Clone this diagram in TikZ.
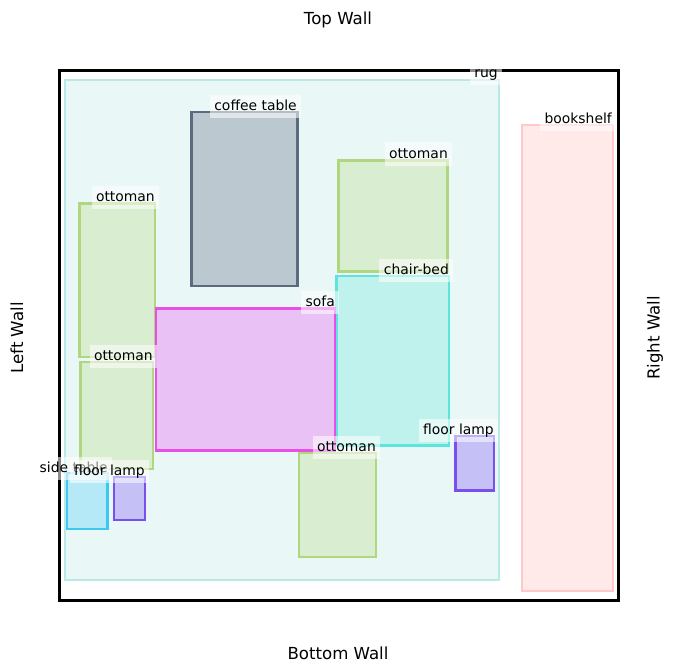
\documentclass[tikz,border=0pt]{standalone}
\usepackage{fontspec}
\setmainfont{DejaVu Sans}
\usepackage{xcolor}
\definecolor{rugLine}{HTML}{B9E8E6}\definecolor{rugFill}{HTML}{E9F7F7}
\definecolor{shelfLine}{HTML}{FFC9C9}\definecolor{shelfFill}{HTML}{FFE9E9}
\definecolor{coffeeLine}{HTML}{5A6B80}\definecolor{coffeeFill}{HTML}{BCC8D0}
\definecolor{ottoLine}{HTML}{B0D67E}\definecolor{ottoFill}{HTML}{D9EDD0}
\definecolor{chairLine}{HTML}{5CE5DC}\definecolor{chairFill}{HTML}{C0F2ED}
\definecolor{sofaLine}{HTML}{E84EE8}\definecolor{sofaFill}{HTML}{E9C1F5}
\definecolor{sideLine}{HTML}{3CC8F0}\definecolor{sideFill}{HTML}{B5E9F7}
\definecolor{lampLine}{HTML}{7950EE}\definecolor{lampFill}{HTML}{C5C0F5}

\begin{document}
\begin{tikzpicture}[
  x=1pt, y=-1pt,
  blk/.style={draw=#1Line, fill=#1Fill, line width=2.9pt},
  lbl/.style={anchor=base east, fill=white, fill opacity=0.55, text opacity=1,
              font=\fontsize{13.9}{16}\selectfont, text height=11pt, text depth=3pt,
              inner xsep=4.5pt, inner ysep=4.5pt, xshift=5.5pt},
  wall/.style={font=\fontsize{16.6}{19}\selectfont}
]
\useasboundingbox (0,0) rectangle (676,671);

%% Rug and furniture
\draw[blk=rug]    (65,80)    rectangle (499,580);
\draw[blk=shelf]  (522,125)  rectangle (613,591);
\draw[blk=coffee] (191.5,112) rectangle (297.5,286);
\draw[blk=otto]   (338.5,160.5) rectangle (447.5,271.5);
\draw[blk=otto]   (79.5,203.5) rectangle (155,357);
\draw[blk=otto]   (80.5,362) rectangle (153,469);
\draw[blk=otto]   (299,453)  rectangle (376,557);
\draw[blk=chair]  (336.5,276) rectangle (449,445.5);
\draw[blk=sofa]   (156,308.5) rectangle (335,450.5);
\draw[blk=side]   (67,473)   rectangle (107.5,529);
\draw[blk=lamp]   (114,477)  rectangle (145,520);
\draw[blk=lamp]   (455.5,436) rectangle (494,490.5);

%% Room outline
\draw[black, line width=3pt] (59,71) rectangle (618,600);

%% Labels
\node[lbl] (rugLbl)    at (497,78)    {rug};
\node[lbl] (shelfLbl)  at (611,124)   {bookshelf};
\node[lbl] (coffeeLbl) at (296,111)   {coffee table};
\node[lbl] (ottoA)     at (447,158)   {ottoman};
\node[lbl] (ottoB)     at (154,201)   {ottoman};
\node[lbl] (ottoC)     at (152,360)   {ottoman};
\node[lbl] (ottoD)     at (375,451)   {ottoman};
\node[lbl] (chairLbl)  at (448,274)   {chair-bed};
\node[lbl] (sofaLbl)   at (334,306)   {sofa};
\node[lbl] (sideLbl)   at (107,472)   {side table};
\node[lbl] (lampA)     at (144,475)   {floor lamp};
\node[lbl] (lampB)     at (493,434)   {floor lamp};

%% Walls
\node[wall] (topWall)    at (338,20)  {Top Wall};
\node[wall] (bottomWall) at (338,653) {Bottom Wall};
\node[wall, rotate=90] (leftWall)  at (17,338)  {Left Wall};
\node[wall, rotate=90] (rightWall) at (655,338) {Right Wall};

\end{tikzpicture}
\end{document}
